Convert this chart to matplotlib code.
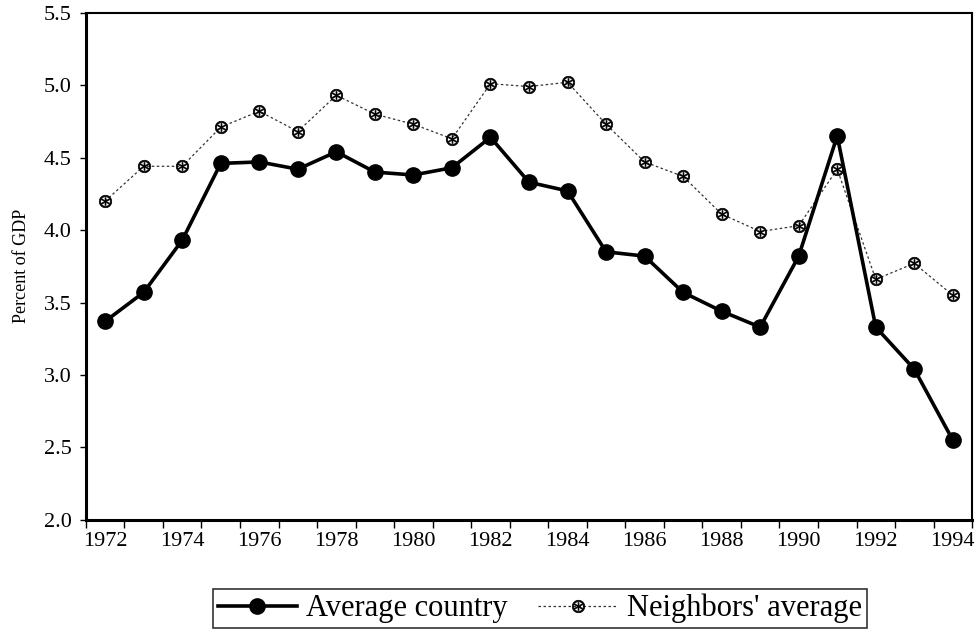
import matplotlib
matplotlib.use("Agg")
from matplotlib import pyplot as plt
import numpy as np

plt.rcParams['font.family'] = ['Liberation Serif', 'DejaVu Serif']
plt.rcParams['mathtext.fontset'] = 'dejavusans'

years = list(range(1972, 1995))
average_country = [3.37, 3.57, 3.93, 4.46, 4.47, 4.42, 4.54, 4.40, 4.38, 4.43,
                   4.64, 4.33, 4.27, 3.85, 3.82, 3.57, 3.44, 3.33, 3.82, 4.65,
                   3.33, 3.04, 2.55]
neighbors_average = [4.20, 4.44, 4.44, 4.71, 4.82, 4.68, 4.93, 4.80, 4.73, 4.63,
                     5.01, 4.99, 5.02, 4.73, 4.47, 4.37, 4.11, 3.99, 4.03, 4.42,
                     3.66, 3.77, 3.55]
tick_years = years[::2]

x = np.arange(len(years))

fig = plt.figure(figsize=(9.76, 6.34), dpi=100)
ax = fig.add_axes([0.088, 0.18, 0.908, 0.8])

ax.plot(x, average_country, color='black', linewidth=2.6, marker='o',
        markersize=11, label='Average country', zorder=3)
ax.plot(x, neighbors_average, color='#333333', linewidth=0.9,
        linestyle=(0, (2, 2)), marker=r'$\circledast$', markersize=9,
        markeredgewidth=0.5, markeredgecolor='black', markerfacecolor='black',
        label="Neighbors' average", zorder=2)

ax.set_xlim(-0.5, len(years) - 0.5)
ax.set_ylim(2.0, 5.5)
ax.set_yticks(np.arange(2.0, 5.51, 0.5))
ax.set_yticklabels(['%.1f' % v for v in np.arange(2.0, 5.51, 0.5)], fontsize=16)

# ticks at category boundaries, labels at category centres
ax.set_xticks(np.arange(-0.5, len(years), 1.0))
ax.set_xticklabels([])
ax.set_xticks(x[::2], minor=True)
ax.set_xticklabels([str(y) for y in tick_years], minor=True, fontsize=16)
ax.tick_params(axis='x', which='major', direction='out', length=6, width=1)
ax.tick_params(axis='x', which='minor', length=0, pad=9)
ax.tick_params(axis='y', direction='out', length=4, width=1, pad=6)

ax.set_ylabel('Percent of GDP', fontsize=13, labelpad=10)

for side in ['left', 'bottom']:
    ax.spines[side].set_linewidth(2.2)
for side in ['top', 'right']:
    ax.spines[side].set_linewidth(1.5)

leg = fig.legend(loc='center', bbox_to_anchor=(0.553, 0.04), ncol=2,
                 fontsize=22, frameon=True, fancybox=False, edgecolor='black',
                 handlelength=2.6, handletextpad=0.3, columnspacing=1.0,
                 borderpad=0.15, borderaxespad=0)
leg.get_frame().set_linewidth(1.2)

fig.savefig('out.png', dpi=100)
